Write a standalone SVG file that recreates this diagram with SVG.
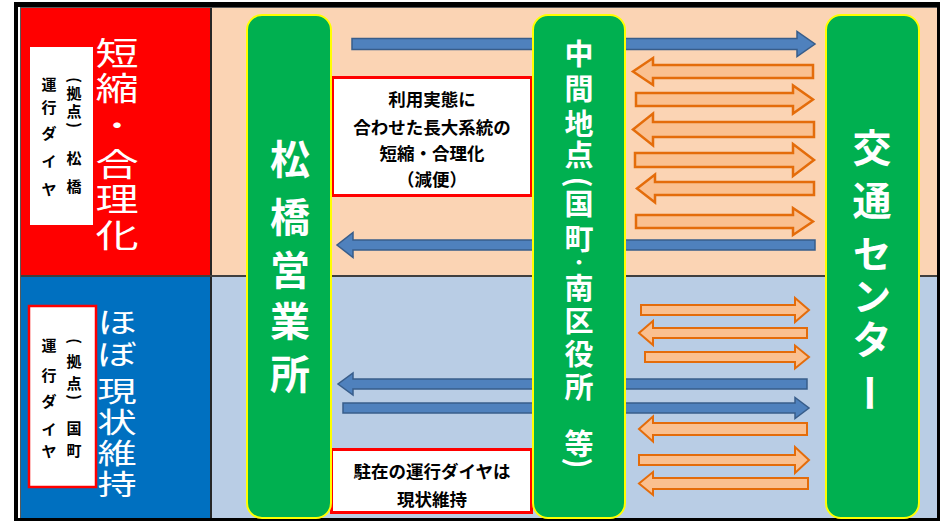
<svg xmlns="http://www.w3.org/2000/svg" width="951" height="521" viewBox="0 0 951 521">
<defs>
<style>
.big{font-family:"Noto Sans CJK JP",sans-serif;font-size:32px;fill:#ffffff;text-anchor:middle;dominant-baseline:central;}
.nl{font-family:"Noto Sans CJK JP",sans-serif;font-weight:bold;fill:#ffffff;text-anchor:middle;dominant-baseline:central;}
.sm{font-family:"Noto Sans CJK JP",sans-serif;font-weight:bold;font-size:15px;fill:#000000;text-anchor:middle;dominant-baseline:central;}
.bx{font-family:"Noto Sans CJK JP",sans-serif;font-weight:bold;font-size:17.5px;fill:#000000;text-anchor:middle;dominant-baseline:central;}
.node{fill:#00B050;stroke:#FFFF00;stroke-width:2;}
.note{fill:#ffffff;stroke:#FF0000;stroke-width:3;}
.ba{fill:#4F81BD;stroke:#385D8A;stroke-width:1.5;}
.oa{fill:#FAC090;stroke:#E46C0A;stroke-width:2.5;}
.ob{fill:#FAC090;stroke:#E46C0A;stroke-width:2;}
</style>
</defs>
<!-- background -->
<rect x="0" y="0" width="951" height="521" fill="#ffffff"/>
<rect x="14" y="2" width="926" height="519" fill="#000000"/>
<rect x="18" y="7" width="919" height="511" fill="#ffffff"/>
<rect x="20" y="7" width="917" height="511" fill="#595959"/>
<rect x="21" y="8" width="189" height="267" fill="#FF0000"/>
<rect x="21" y="277" width="189" height="241" fill="#0070C0"/>
<rect x="212" y="8" width="725" height="267" fill="#FBD4B4"/>
<rect x="212" y="277" width="725" height="241" fill="#B9CDE5"/>
<!-- left labels upper -->
<g id="label-upper">
<rect x="30" y="47" width="63" height="178" fill="#ffffff"/>
<text class="sm" transform="translate(75,80) rotate(90)">(</text>
<text class="sm" x="74" y="92">拠</text>
<text class="sm" x="74" y="110">点</text>
<text class="sm" transform="translate(75,125) rotate(90)">)</text>
<text class="sm" x="74" y="157">松</text>
<text class="sm" x="74" y="185">橋</text>
<text class="sm" x="49" y="83">運</text>
<text class="sm" x="49" y="106">行</text>
<text class="sm" x="49" y="132">ダ</text>
<text class="sm" x="49" y="160">イ</text>
<text class="sm" x="49" y="188">ヤ</text>
<g transform="translate(117,0) scale(1.35,1)">
<text class="big" x="0" y="51">短</text>
<text class="big" x="0" y="86">縮</text>
<text class="big" style="font-size:26px" x="0" y="124">・</text>
<text class="big" x="0" y="162">合</text>
<text class="big" x="0" y="197">理</text>
<text class="big" x="0" y="233">化</text>
</g>
</g>
<g id="label-lower">
<rect x="29" y="306" width="67" height="181" fill="#ffffff" stroke="#FF0000" stroke-width="2.5"/>
<text class="sm" transform="translate(75,341) rotate(90)">(</text>
<text class="sm" x="74" y="360">拠</text>
<text class="sm" x="74" y="382">点</text>
<text class="sm" transform="translate(75,397) rotate(90)">)</text>
<text class="sm" x="74" y="427">国</text>
<text class="sm" x="74" y="449">町</text>
<text class="sm" x="49" y="344">運</text>
<text class="sm" x="49" y="374">行</text>
<text class="sm" x="49" y="400">ダ</text>
<text class="sm" x="49" y="428">イ</text>
<text class="sm" x="49" y="450">ヤ</text>
<g transform="translate(117,0) scale(1.4,1)">
<text class="big" style="font-size:28px" x="0" y="321">ほ</text>
<text class="big" style="font-size:28px" x="0" y="353">ぼ</text>
<text class="big" style="font-size:28px" x="0" y="390">現</text>
<text class="big" style="font-size:28px" x="0" y="421">状</text>
<text class="big" style="font-size:28px" x="0" y="452">維</text>
<text class="big" style="font-size:28px" x="0" y="483">持</text>
</g>
</g>
<!-- separators -->
<rect x="210" y="8" width="2" height="510" fill="#262626"/>
<rect x="21" y="275" width="916" height="2" fill="#3F3F3F"/>
<!-- connectors -->
<g id="connectors">
<polygon class="ba" points="352,38.5 797,38.5 797,31.5 815,44 797,56.5 797,49.5 352,49.5"/>
<polygon class="ba" points="815,240 353,240 353,232.5 337,245 353,257.5 353,250 815,250"/>
<polygon class="ba" points="807,379 353,379 353,373 338,384 353,395 353,389 807,389"/>
<polygon class="ba" points="343,403 795,403 795,397.5 809,408 795,418.5 795,413 343,413"/>
<polygon class="oa" points="813,65 653,65 653,58 633,71.5 653,85 653,78 813,78"/>
<polygon class="oa" points="636,93 793,93 793,85.5 813,99.5 793,113.5 793,106 636,106"/>
<polygon class="oa" points="814,122 653,122 653,113.5 633,129.5 653,145.5 653,137 814,137"/>
<polygon class="oa" points="635,153 793,153 793,144 814,160 793,176 793,167 635,167"/>
<polygon class="oa" points="814,182 655,182 655,174.5 637,188.5 655,202.5 655,195 814,195"/>
<polygon class="oa" points="636,215 793,215 793,208 813,221.5 793,235 793,228 636,228"/>
<polygon class="ob" points="641,305 795,305 795,298 809,310 795,322 795,315 641,315"/>
<polygon class="ob" points="807,328 653,328 653,321 639,333 653,345 653,338 807,338"/>
<polygon class="ob" points="645,352 795,352 795,345.5 809,357 795,368.5 795,362 645,362"/>
<polygon class="ob" points="807,423 653,423 653,416.5 639,429 653,441.5 653,435 807,435"/>
<polygon class="ob" points="639,455 795,455 795,447 809,460 795,473 795,465 639,465"/>
<polygon class="ob" points="808,478 653,478 653,472 639,483.5 653,495 653,489 808,489"/>
</g>
<!-- notes -->
<g id="note-upper">
<rect class="note" x="332.5" y="77.5" width="199" height="118"/>
<text class="bx" x="432" y="98">利用実態に</text>
<text class="bx" x="432" y="126">合わせた長大系統の</text>
<text class="bx" x="432" y="152">短縮・合理化</text>
<text class="bx" x="432" y="178">（減便）</text>
</g>
<g id="note-lower">
<rect class="note" x="331.5" y="449.5" width="200" height="63"/>
<text class="bx" x="432" y="470">駐在の運行ダイヤは</text>
<text class="bx" x="432" y="498">現状維持</text>
</g>
<!-- nodes -->
<g id="node-matsubase">
<rect class="node" x="247" y="15" width="84" height="503" rx="15"/>
<text class="nl" style="font-size:40px" x="290" y="157">松</text>
<text class="nl" style="font-size:40px" x="290" y="215">橋</text>
<text class="nl" style="font-size:40px" x="290" y="268">営</text>
<text class="nl" style="font-size:40px" x="290" y="319">業</text>
<text class="nl" style="font-size:40px" x="290" y="372">所</text>
</g>
<g id="node-middle">
<rect class="node" x="533" y="15" width="92" height="503" rx="15"/>
<text class="nl" style="font-size:29px" x="579" y="52">中</text>
<text class="nl" style="font-size:29px" x="579" y="87">間</text>
<text class="nl" style="font-size:29px" x="579" y="122">地</text>
<text class="nl" style="font-size:29px" x="579" y="153">点</text>
<text class="nl" style="font-size:29px" transform="translate(581,182) rotate(90)">(</text>
<text class="nl" style="font-size:29px" x="579" y="202">国</text>
<text class="nl" style="font-size:29px" x="579" y="237">町</text>
<text class="nl" style="font-size:18px" x="579" y="261">・</text>
<text class="nl" style="font-size:29px" x="579" y="286">南</text>
<text class="nl" style="font-size:29px" x="579" y="319">区</text>
<text class="nl" style="font-size:29px" x="579" y="352">役</text>
<text class="nl" style="font-size:29px" x="579" y="385">所</text>
<text class="nl" style="font-size:29px" x="579" y="442">等</text>
<text class="nl" style="font-size:29px" transform="translate(581,463) rotate(90)">)</text>
</g>
<g id="node-center">
<rect class="node" x="826" y="15" width="93" height="503" rx="15"/>
<text class="nl" style="font-size:39px" x="872" y="145">交</text>
<text class="nl" style="font-size:39px" x="872" y="198">通</text>
<text class="nl" style="font-size:38px" x="872" y="251">セ</text>
<text class="nl" style="font-size:38px" x="872" y="293">ン</text>
<text class="nl" style="font-size:39px" x="872" y="337">タ</text>
<text class="nl" style="font-size:39px" transform="translate(872,393) rotate(90)">ー</text>
</g>
</svg>
